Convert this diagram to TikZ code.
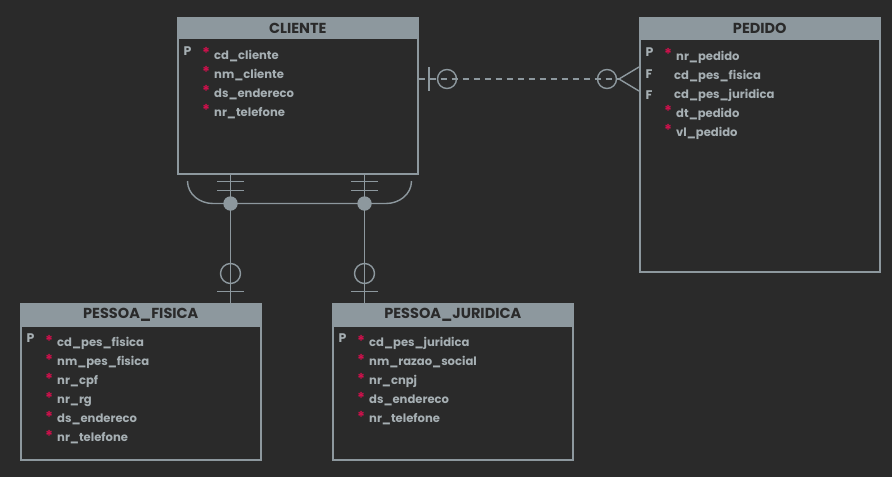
\documentclass[tikz,border=0pt]{standalone}
\usepackage{fontspec}
\setmainfont{Poppins}
\definecolor{bg}{HTML}{2A2A2A}
\definecolor{ln}{HTML}{8D989E}
\definecolor{hdtx}{HTML}{2A2A2A}
\definecolor{tx}{HTML}{A6AFB3}
\definecolor{starc}{HTML}{D0104C}
\begin{document}
\begin{tikzpicture}[x=1pt,y=-1pt,
  ent/.style={draw=ln, line width=1.6pt, anchor=north west, inner sep=0pt},
  hdr/.style={fill=ln, draw=ln, line width=1.6pt, anchor=north west, inner sep=0pt, minimum width=240pt, text=hdtx, font=\bfseries\fontsize{14.5}{16}\selectfont},
  attr/.style={anchor=base west, inner sep=0pt, text=tx, font=\bfseries\fontsize{11.6}{13}\selectfont},
  pk/.style={anchor=base west, inner sep=0pt, text=tx, font=\bfseries\fontsize{12.5}{14}\selectfont},
  asterisk/.style={anchor=base west, inner sep=0pt, text=starc, font=\bfseries\fontsize{15}{17}\selectfont},
  conn/.style={draw=ln, line width=1.4pt},
  ]
\fill[bg] (0,0) rectangle (892,477);
\useasboundingbox (0,0) rectangle (892,477);

% ---------- CLIENTE ----------
\node[ent, minimum width=240pt, minimum height=156pt] (cli) at (177,17) {};
\node[hdr, minimum width=240pt, minimum height=20.5pt] (clih) at (177,17) {CLIENTE};
\node[pk] (clip) at (183.5,55) {P};
\foreach \t [count=\i from 0] in {cd\_cliente,nm\_cliente,ds\_endereco,nr\_telefone}{
  \node[asterisk] (clis\i) at (202,58.5+19*\i) {*};
  \node[attr] (clia\i) at (214,59+19*\i) {\t};
}

% ---------- PEDIDO ----------
\node[ent, minimum width=240pt, minimum height=254pt] (ped) at (639,17) {};
\node[hdr, minimum width=240pt, minimum height=21pt] (pedh) at (639,17) {PEDIDO};
\node[pk] (pedp) at (645.5,56) {P};
\node[pk] (pedf1) at (645.5,78.5) {F};
\node[pk] (pedf2) at (645.5,99.5) {F};
\node[asterisk] (peds0) at (664,59.5) {*};
\node[attr] (peda0) at (676,60) {nr\_pedido};
\node[attr] (peda1) at (674,79) {cd\_pes\_fisica};
\node[attr] (peda2) at (674,98) {cd\_pes\_juridica};
\node[asterisk] (peds3) at (664,116.5) {*};
\node[attr] (peda3) at (676,117) {dt\_pedido};
\node[asterisk] (peds4) at (664,135.5) {*};
\node[attr] (peda4) at (676,136) {vl\_pedido};

% ---------- PESSOA_FISICA ----------
\node[ent, minimum width=240pt, minimum height=156pt] (pf) at (20,303) {};
\node[hdr, minimum width=240pt, minimum height=22pt] (pfh) at (20,303) {PESSOA\_FISICA};
\node[pk] (pfp) at (26.5,342) {P};
\foreach \t [count=\i from 0] in {cd\_pes\_fisica,nm\_pes\_fisica,nr\_cpf,nr\_rg,ds\_endereco,nr\_telefone}{
  \node[asterisk] (pfs\i) at (45,346+19*\i) {*};
  \node[attr] (pfa\i) at (57,346.5+19*\i) {\t};
}

% ---------- PESSOA_JURIDICA ----------
\node[ent, minimum width=240pt, minimum height=156pt] (pj) at (332,303) {};
\node[hdr, minimum width=240pt, minimum height=22pt] (pjh) at (332,303) {PESSOA\_JURIDICA};
\node[pk] (pjp) at (338.5,342) {P};
\foreach \t [count=\i from 0] in {cd\_pes\_juridica,nm\_razao\_social,nr\_cnpj,ds\_endereco,nr\_telefone}{
  \node[asterisk] (pjs\i) at (357,346+19*\i) {*};
  \node[attr] (pja\i) at (369,346.5+19*\i) {\t};
}

% ---------- CLIENTE -- PEDIDO (dashed, one optional to many optional) ----------
\coordinate (r1) at (cli.east |- 0,79);
\coordinate (r2) at (ped.west |- 0,79);
\coordinate (crow) at (619,79);
\draw[conn, dash pattern=on 6pt off 5pt] (r1) -- (crow);
\draw[conn] (r1) -- (420.5,79);
\draw[conn] (429,67) -- (429,91);
\draw[conn] (447,79) circle[radius=9.5];
\draw[conn] (607,79) circle[radius=9.5];
\draw[conn] (r2 |- 0,67) -- (crow) -- (r2 |- 0,91);

% ---------- CLIENTE -- subtypes ----------
\coordinate (d1) at (230.5,203.5);
\coordinate (d2) at (364.5,203.5);
\draw[conn] (cli.south -| d1) -- (pf.north -| d1);
\draw[conn] (cli.south -| d2) -- (pj.north -| d2);
\foreach \x in {230.5,364.5}{
  \draw[conn] (\x-13.5,181.5) -- (\x+13.5,181.5);
  \draw[conn] (\x-13.5,190.5) -- (\x+13.5,190.5);
  \draw[conn] (\x,273.5) circle[radius=10];
  \draw[conn] (\x-13.5,291.5) -- (\x+13.5,291.5);
}
\draw[conn] (187.5,181) to[out=-90,in=180] (213,203.5) -- (386,203.5) to[out=0,in=-90] (411.5,181);
\fill[ln] (d1) circle[radius=7.2];
\fill[ln] (d2) circle[radius=7.2];
\end{tikzpicture}
\end{document}
